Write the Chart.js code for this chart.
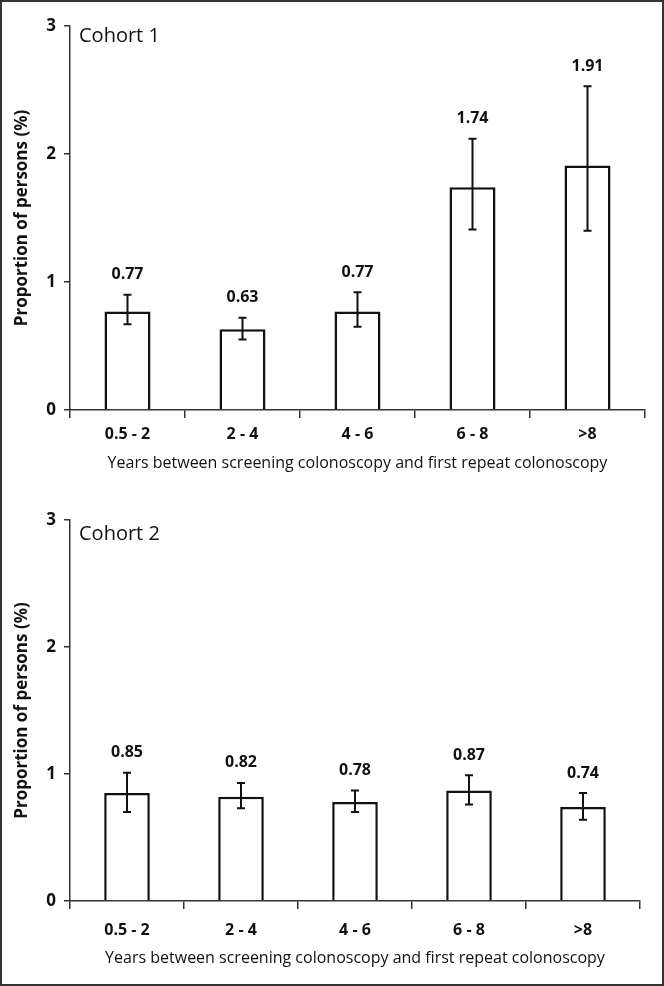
<!DOCTYPE html>
<html>
<head>
<meta charset="utf-8">
<script src="https://cdn.jsdelivr.net/npm/chart.js@4.4.1/dist/chart.umd.min.js"></script>
<style>
  html, body { margin: 0; padding: 0; background: #fff; }
  #frame { position: relative; width: 664px; height: 986px; box-sizing: border-box; border: 2px solid #333; overflow: hidden; }
  .panel { position: absolute; left: -2px; width: 664px; }
  #p1 { top: -2px; height: 490px; }
  #p2 { top: 488px; height: 496px; }
</style>
</head>
<body>
<div id="frame">
  <div class="panel" id="p1"><canvas id="chart1"></canvas></div>
  <div class="panel" id="p2"><canvas id="chart2"></canvas></div>
</div>
<script>
const categories = ['0.5 - 2', '2 - 4', '4 - 6', '6 - 8', '>8'];
const yTicks = [0, 1, 2, 3];

const cohort1Values = [0.77, 0.63, 0.77, 1.74, 1.91];
const cohort1Low = [0.67, 0.55, 0.65, 1.41, 1.40];
const cohort1High = [0.90, 0.72, 0.92, 2.12, 2.53];

const cohort2Values = [0.85, 0.82, 0.78, 0.87, 0.74];
const cohort2Low = [0.70, 0.73, 0.70, 0.76, 0.64];
const cohort2High = [1.01, 0.93, 0.87, 0.99, 0.85];

const FONT = "'Open Sans', sans-serif";
Chart.defaults.font.family = FONT;
Chart.defaults.color = '#111';

// whiskers, value labels and the cohort caption
const errorBars = {
  id: 'errorBars',
  afterDatasetsDraw(chart, args, opts) {
    const ctx = chart.ctx;
    const y = chart.scales.y;
    const meta = chart.getDatasetMeta(0);
    ctx.save();
    ctx.strokeStyle = '#111';
    ctx.lineWidth = 2;
    meta.data.forEach((bar, i) => {
      const yLo = y.getPixelForValue(opts.low[i]);
      const yHi = y.getPixelForValue(opts.high[i]);
      ctx.beginPath();
      ctx.moveTo(bar.x, yLo); ctx.lineTo(bar.x, yHi);
      ctx.moveTo(bar.x - 4, yLo); ctx.lineTo(bar.x + 4, yLo);
      ctx.moveTo(bar.x - 4, yHi); ctx.lineTo(bar.x + 4, yHi);
      ctx.stroke();
      ctx.fillStyle = '#111';
      ctx.font = 'bold 16px ' + FONT;
      ctx.textAlign = 'center';
      ctx.textBaseline = 'middle';
      ctx.fillText(opts.values[i].toFixed(2), bar.x, yHi - 20);
    });
    ctx.font = '20px ' + FONT;
    ctx.textAlign = 'left';
    ctx.textBaseline = 'middle';
    ctx.fillText(opts.caption, chart.chartArea.left + 9, chart.chartArea.top + opts.captionDy);
    ctx.restore();
  }
};

function makeChart(id, values, low, high, caption, pad, xHeight, tickPad, titlePad, captionDy) {
  return new Chart(document.getElementById(id), {
    type: 'bar',
    data: {
      labels: categories,
      datasets: [{
        data: values,
        backgroundColor: '#fff',
        borderColor: '#111',
        borderWidth: 2.5,
        categoryPercentage: 1,
        barPercentage: 0.4
      }]
    },
    options: {
      responsive: true,
      maintainAspectRatio: false,
      animation: false,
      layout: { padding: pad },
      plugins: {
        legend: { display: false },
        tooltip: { enabled: false },
        errorBars: { low: low, high: high, values: values, caption: caption, captionDy: captionDy }
      },
      scales: {
        x: {
          offset: true,
          afterFit: s => { s.height = xHeight; },
          grid: { drawOnChartArea: false, tickLength: 8, color: '#333', lineWidth: 1.5 },
          border: { color: '#333', width: 1.5 },
          ticks: { padding: tickPad, font: { size: 16, weight: 'bold' }, color: '#111', maxRotation: 0 },
          title: {
            display: true,
            text: 'Years between screening colonoscopy and first repeat colonoscopy',
            font: { size: 16 },
            color: '#111',
            padding: { top: 0, bottom: titlePad }
          }
        },
        y: {
          min: 0,
          max: 3,
          afterFit: s => { s.width = 70; },
          afterBuildTicks: s => { s.ticks = yTicks.map(v => ({ value: v })); },
          grid: { drawOnChartArea: false, tickLength: 6, color: '#333', lineWidth: 1.5 },
          border: { color: '#333', width: 1.5 },
          ticks: { padding: 8, font: { size: 17, weight: 'bold' }, color: '#111' },
          title: {
            display: true,
            text: 'Proportion of persons (%)',
            font: { size: 17, weight: 'bold' },
            color: '#111',
            padding: { top: 12, bottom: 0 }
          }
        }
      }
    },
    plugins: [errorBars]
  });
}

makeChart('chart1', cohort1Values, cohort1Low, cohort1High, 'Cohort 1',
  { top: 26, right: 19, bottom: 0, left: 0 }, 80, 7, 17, 10);
makeChart('chart2', cohort2Values, cohort2Low, cohort2High, 'Cohort 2',
  { top: 30, right: 24, bottom: 0, left: 0 }, 85, 12, 18, 14);
</script>
</body>
</html>
